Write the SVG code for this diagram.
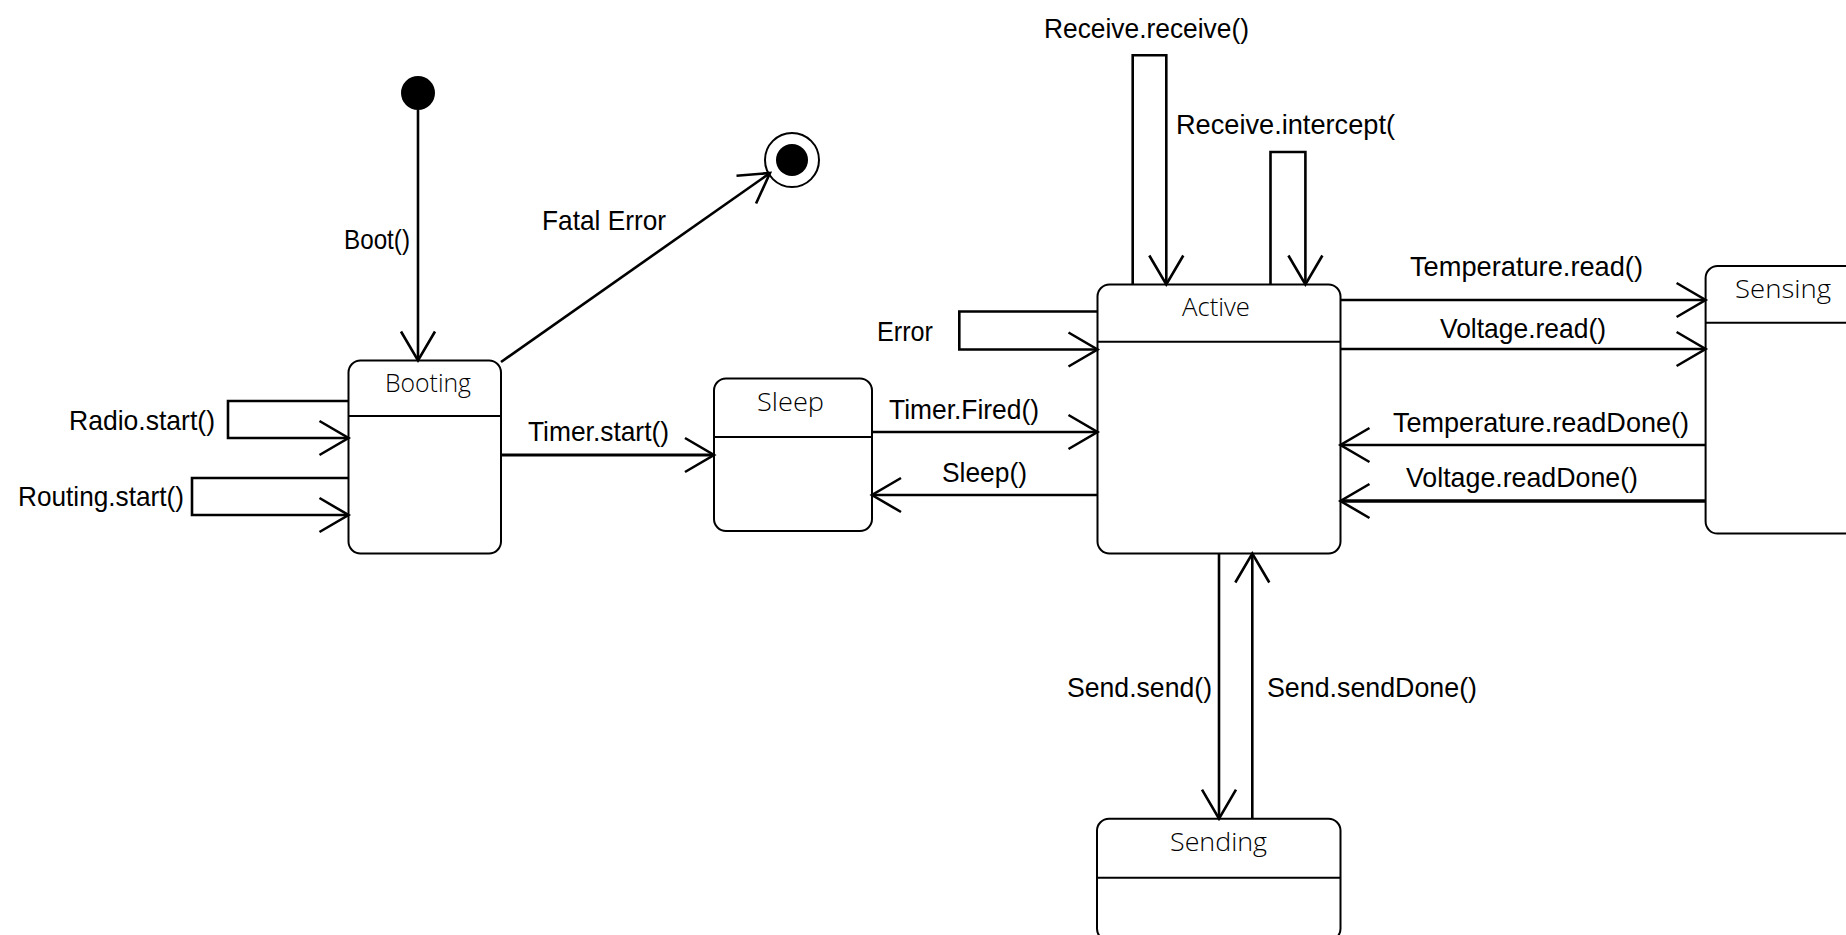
<svg xmlns="http://www.w3.org/2000/svg" width="1846" height="935" viewBox="0 0 1846 935">
  <defs>
    <style>
      .state { fill: #fff; stroke: #000; stroke-width: 2; }
      .div { stroke: #000; stroke-width: 2; }
      .conn { fill: none; stroke: #000; stroke-width: 2.6; marker-end: url(#open); }
      .lbl { font-family: "Liberation Sans", Arial, sans-serif; font-size: 28px; fill: #000; }
      .name { font-family: "Open Sans", "Liberation Sans", sans-serif; font-weight: 300; font-size: 26px; fill: #000; text-anchor: middle; }
    </style>
    <!-- open V arrowhead used on every transition -->
    <marker id="open" markerUnits="userSpaceOnUse" markerWidth="40" markerHeight="40" refX="32" refY="20" orient="auto" overflow="visible">
      <path d="M3,3 L32,20 L3,37" fill="none" stroke="#000" stroke-width="2.6"/>
    </marker>
  </defs>
  <rect width="1846" height="935" fill="#fff"/>

  <!-- pseudo states -->
  <g id="initial">
    <circle cx="418" cy="93" r="17" fill="#000"/>
  </g>
  <g id="final">
    <circle cx="792" cy="160" r="27" fill="#fff" stroke="#000" stroke-width="2"/>
    <circle cx="792" cy="160" r="16" fill="#000"/>
  </g>

  <!-- states -->
  <g id="booting">
    <rect class="state" x="348.5" y="360.5" width="152.5" height="193" rx="12"/>
    <line class="div" x1="348.5" y1="416" x2="501" y2="416"/>
    <text class="name" x="428" y="392" textLength="86" lengthAdjust="spacingAndGlyphs">Booting</text>
  </g>
  <g id="sleep">
    <rect class="state" x="714" y="378.5" width="158" height="152.5" rx="12"/>
    <line class="div" x1="714" y1="437" x2="872" y2="437"/>
    <text class="name" x="790.5" y="411" textLength="67" lengthAdjust="spacingAndGlyphs">Sleep</text>
  </g>
  <g id="active">
    <rect class="state" x="1097.5" y="284.5" width="243" height="269" rx="12"/>
    <line class="div" x1="1097.5" y1="341.7" x2="1340.5" y2="341.7"/>
    <text class="name" x="1216" y="316" textLength="68" lengthAdjust="spacingAndGlyphs">Active</text>
  </g>
  <g id="sensing">
    <rect class="state" x="1705.6" y="266" width="162" height="267.6" rx="12"/>
    <line class="div" x1="1705.6" y1="322.8" x2="1867.6" y2="322.8"/>
    <text class="name" x="1783" y="298" textLength="96" lengthAdjust="spacingAndGlyphs">Sensing</text>
  </g>
  <g id="sending">
    <rect class="state" x="1097" y="818.7" width="243.5" height="122" rx="12"/>
    <line class="div" x1="1097" y1="877.7" x2="1340.5" y2="877.7"/>
    <text class="name" x="1218.5" y="851" textLength="97" lengthAdjust="spacingAndGlyphs">Sending</text>
  </g>

  <!-- transitions -->
  <g id="connectors">
    <path class="conn" d="M418,110 V360.5"/>
    <path class="conn" d="M501,362 L770,173"/>
    <path class="conn" d="M348.5,401 H228 V438 H348.5"/>
    <path class="conn" d="M348.5,478 H192 V515 H348.5"/>
    <path class="conn" d="M501,455 H714" style="stroke-width:3.2"/>
    <path class="conn" d="M1132.7,284.5 V55.3 H1166.3 V284.5"/>
    <path class="conn" d="M1270.5,284.5 V152 H1305.4 V284.5"/>
    <path class="conn" d="M1097.5,311.5 H959.3 V349.5 H1097.5"/>
    <path class="conn" d="M872,432 H1097.5"/>
    <path class="conn" d="M1097.5,495 H872"/>
    <path class="conn" d="M1340.5,300 H1705.6"/>
    <path class="conn" d="M1340.5,349 H1705.6"/>
    <path class="conn" d="M1705.6,445 H1340.5"/>
    <path class="conn" d="M1705.6,501 H1340.5" style="stroke-width:3.6"/>
    <path class="conn" d="M1219,553.5 V818.7"/>
    <path class="conn" d="M1252.3,818.7 V553.5"/>
  </g>

  <!-- transition labels -->
  <g id="labels">
    <text class="lbl" x="344" y="249" textLength="66" lengthAdjust="spacingAndGlyphs">Boot()</text>
    <text class="lbl" x="542" y="230" textLength="124" lengthAdjust="spacingAndGlyphs">Fatal Error</text>
    <text class="lbl" x="69" y="430" textLength="146" lengthAdjust="spacingAndGlyphs">Radio.start()</text>
    <text class="lbl" x="18" y="506" textLength="166" lengthAdjust="spacingAndGlyphs">Routing.start()</text>
    <text class="lbl" x="528" y="441" textLength="141" lengthAdjust="spacingAndGlyphs">Timer.start()</text>
    <text class="lbl" x="1044" y="38" textLength="205" lengthAdjust="spacingAndGlyphs">Receive.receive()</text>
    <text class="lbl" x="1176" y="134" textLength="219" lengthAdjust="spacingAndGlyphs">Receive.intercept(</text>
    <text class="lbl" x="877" y="341" textLength="56" lengthAdjust="spacingAndGlyphs">Error</text>
    <text class="lbl" x="889" y="419" textLength="150" lengthAdjust="spacingAndGlyphs">Timer.Fired()</text>
    <text class="lbl" x="942" y="482" textLength="85" lengthAdjust="spacingAndGlyphs">Sleep()</text>
    <text class="lbl" x="1410" y="276" textLength="233" lengthAdjust="spacingAndGlyphs">Temperature.read()</text>
    <text class="lbl" x="1440" y="338" textLength="166" lengthAdjust="spacingAndGlyphs">Voltage.read()</text>
    <text class="lbl" x="1393" y="432" textLength="296" lengthAdjust="spacingAndGlyphs">Temperature.readDone()</text>
    <text class="lbl" x="1406" y="487" textLength="232" lengthAdjust="spacingAndGlyphs">Voltage.readDone()</text>
    <text class="lbl" x="1067" y="697" textLength="145" lengthAdjust="spacingAndGlyphs">Send.send()</text>
    <text class="lbl" x="1267" y="697" textLength="210" lengthAdjust="spacingAndGlyphs">Send.sendDone()</text>
  </g>
</svg>
